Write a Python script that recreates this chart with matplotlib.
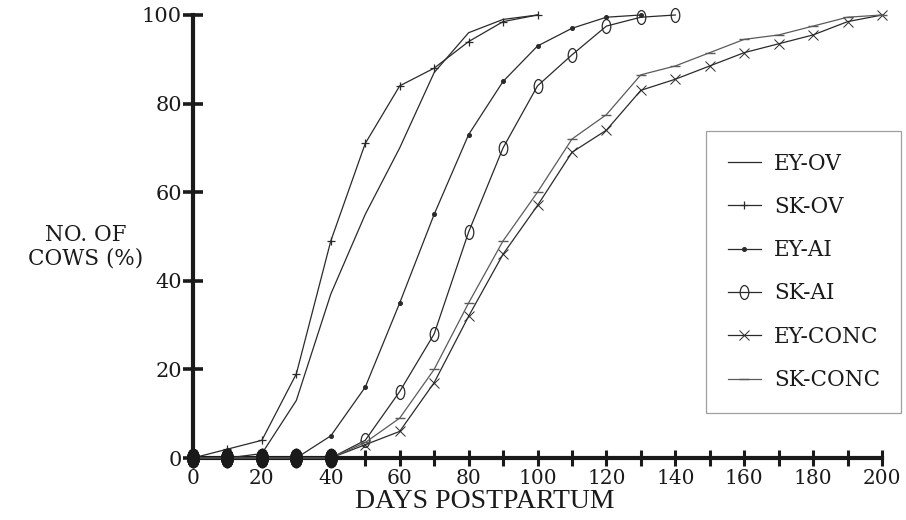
import numpy as np
import matplotlib
matplotlib.use("Agg")
import matplotlib.pyplot as plt
from matplotlib.path import Path
from matplotlib.transforms import Affine2D

# Data (days postpartum vs cumulative % of cows)
days = [0, 10, 20, 30, 40, 50, 60, 70, 80, 90, 100,
        110, 120, 130, 140, 150, 160, 170, 180, 190, 200]

ey_ov = [0, 0, 1, 13, 37, 55, 70, 87, 96, 99, 100]
sk_ov = [0, 2, 4, 19, 49, 71, 84, 88, 94, 98.5, 100]
ey_ai = [0, 0, 0, 0, 5, 16, 35, 55, 73, 85, 93, 97, 99.5, 100]
sk_ai = [0, 0, 0, 0, 0, 4, 15, 28, 51, 70, 84, 91, 97.5, 99.5, 100]
ey_conc = [0, 0, 0, 0, 0, 3, 6, 17, 32, 46, 57, 69, 74, 83, 85.5,
           88.5, 91.5, 93.5, 95.5, 98.5, 100]
sk_conc = [0, 0, 0, 0, 0, 3.5, 9, 20, 35, 49, 60, 72, 77.5, 86.5, 88.5,
           91.5, 94.5, 95.5, 97.5, 99.5, 100]

labels = ["EY-OV", "SK-OV", "EY-AI", "SK-AI", "EY-CONC", "SK-CONC"]
x_ticks = [0, 20, 40, 60, 80, 100, 120, 140, 160, 180, 200]
y_ticks = [0, 20, 40, 60, 80, 100]

# tall ellipse marker for SK-AI
ellipse = Affine2D().scale(0.62, 1.0).transform_path(Path.unit_circle())
blob = Affine2D().scale(0.62, 1.0).transform_path(Path.unit_circle())

serif = "DejaVu Serif"
ink = "#2a2a2a"

fig = plt.figure(figsize=(9.06, 5.20), dpi=100)
ax = fig.add_axes([193 / 906, 62 / 520, 689 / 906, 443 / 520])

series = [
    (ey_ov, dict(marker=None)),
    (sk_ov, dict(marker="+", markersize=6, markeredgewidth=0.9)),
    (ey_ai, dict(marker="o", markersize=2.6)),
    (sk_ai, dict(marker=ellipse, markersize=10, markerfacecolor="none",
                 markeredgewidth=0.9)),
    (ey_conc, dict(marker="x", markersize=6.5, markeredgewidth=0.7)),
    (sk_conc, dict(marker="_", markersize=7, markeredgewidth=1.0)),
]

for (vals, style), lab in zip(series, labels):
    col = "#5a5a5a" if lab == "SK-CONC" else ink
    ax.plot(days[:len(vals)], vals, color=col, lw=0.9, label=lab,
            markeredgecolor=col, markerfacecolor=style.pop("markerfacecolor", col),
            clip_on=False, zorder=3, **style)

# pile-up of markers sitting on the x axis
zero_x = []
for vals, _ in series:
    zero_x += [d for d, v in zip(days, vals) if v == 0]
ax.plot(zero_x, [0] * len(zero_x), ls="none", marker=blob, markersize=13,
        color="#1a1a1a", clip_on=False, zorder=4)

ax.set_xlim(0, 200)
ax.set_ylim(0, 100)
for s in ["top", "right"]:
    ax.spines[s].set_visible(False)
for s in ["left", "bottom"]:
    ax.spines[s].set_linewidth(3)
    ax.spines[s].set_color("#1a1a1a")

ax.set_xticks(x_ticks)
ax.set_xticks(days, minor=True)
ax.set_yticks(y_ticks)
ax.tick_params(axis="x", which="both", direction="inout", length=12,
               width=2.2, color="#1a1a1a", pad=2, labelsize=14.5)
ax.tick_params(axis="y", which="major", direction="inout", length=14,
               width=2.6, color="#1a1a1a", pad=1, labelsize=15)
for t in ax.get_xticklabels() + ax.get_yticklabels():
    t.set_fontfamily(serif)
    t.set_color("#1a1a1a")

fig.text(86 / 906, 1 - 247 / 520, "NO. OF\nCOWS (%)", ha="center",
         va="center", family=serif, fontsize=15.5, color="#1a1a1a",
         linespacing=1.1)
fig.text(485 / 906, 1 - 501 / 520, "DAYS POSTPARTUM", ha="center",
         va="center", family="Liberation Serif", fontsize=20,
         color="#1a1a1a")

leg = ax.legend(loc="upper left", bbox_to_anchor=(706 / 906, 1 - 131 / 520),
                bbox_transform=fig.transFigure, frameon=True, fancybox=False,
                edgecolor="#888888", handlelength=1.55, handletextpad=0.6,
                labelspacing=0.99, borderpad=1.0, borderaxespad=0,
                prop=dict(family=serif, size=15.5))
leg.get_frame().set_linewidth(0.9)
for t in leg.get_texts():
    t.set_color("#1a1a1a")

fig.savefig("out.png", dpi=100)
